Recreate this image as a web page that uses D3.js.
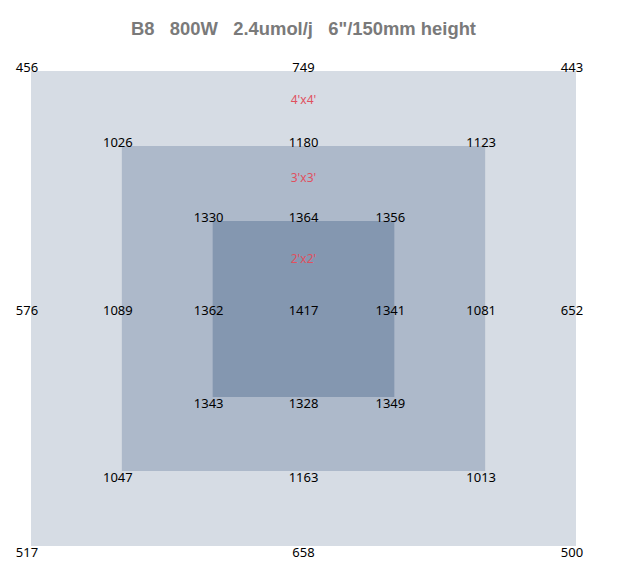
<!DOCTYPE html>
<html>
<head>
<meta charset="utf-8">
<script src="https://cdn.jsdelivr.net/npm/d3@7"></script>
<style>
  body { margin: 0; background: #fff; }
  svg text { font-family: "Noto Sans", sans-serif; }
</style>
</head>
<body>
<svg width="622" height="577"></svg>
<script>
// Squares (ring 3 = outer 4'x4', ring 1 = inner 2'x2')
const rings = [3, 2, 1];
const ringNames = ["4'x4'", "3'x3'", "2'x2'"];
const ringColors = ["#d6dce4", "#adb9ca", "#8497b0"];

// readings per ring: top-left, top, top-right, left, right, bottom-left, bottom, bottom-right
const outerValues = [456, 749, 443, 576, 652, 517, 658, 500];
const middleValues = [1026, 1180, 1123, 1089, 1081, 1047, 1163, 1013];
const innerValues = [1330, 1364, 1356, 1362, 1341, 1343, 1328, 1349];
const centerValue = 1417;

const title = "B8   800W   2.4umol/j   6\"/150mm height";

const svg = d3.select("svg");

// grid scales
const x = d3.scaleLinear().domain([-3, 3]).range([31, 576]);
const y = d3.scaleLinear().domain([-3, -2, -1, 1, 2, 3]).range([71, 146, 221, 397, 471, 546]);

// distance of the size name below each square's top edge
const nameOffset = [33, 36, 42];

// title
svg.append("text")
  .attr("x", 303.5)
  .attr("y", 35)
  .attr("text-anchor", "middle")
  .attr("fill", "#7a7a7a")
  .style("font-family", "'Liberation Sans', Arial, sans-serif")
  .style("font-weight", "bold")
  .style("font-size", "18.4px")
  .style("white-space", "pre")
  .text(title);

// squares
svg.selectAll("rect.ring")
  .data(rings)
  .enter()
  .append("rect")
  .attr("class", "ring")
  .attr("x", (d) => x(-d))
  .attr("y", (d) => y(-d))
  .attr("width", (d) => x(d) - x(-d))
  .attr("height", (d) => y(d) - y(-d))
  .attr("fill", (d, i) => ringColors[i]);

// size names
svg.selectAll("text.name")
  .data(rings)
  .enter()
  .append("text")
  .attr("class", "name")
  .attr("x", x(0))
  .attr("y", (d, i) => y(-d) + nameOffset[i])
  .attr("text-anchor", "middle")
  .attr("fill", "#e0505f")
  .style("font-size", "12px")
  .text((d, i) => ringNames[i]);

// reading positions in grid units: [col, row]
const spots = [[-1, -1], [0, -1], [1, -1], [-1, 0], [1, 0], [-1, 1], [0, 1], [1, 1]];
const allValues = [outerValues, middleValues, innerValues];

const labels = [];
rings.forEach((r, i) => {
  allValues[i].forEach((v, j) => {
    labels.push({ ring: r, col: spots[j][0], row: spots[j][1], value: v });
  });
});
labels.push({ ring: 0, col: 0, row: 0, value: centerValue });

svg.selectAll("text.val")
  .data(labels)
  .enter()
  .append("text")
  .attr("class", "val")
  .attr("x", (d) => x(d.col * d.ring) - (d.col !== 0 ? 4 : 0))
  .attr("y", (d) => {
    if (d.row === -1) return y(-d.ring) + 1;
    if (d.row === 1) return y(d.ring) + 11;
    return 315;
  })
  .attr("text-anchor", "middle")
  .attr("fill", "#000")
  .style("font-size", "13px")
  .text((d) => d.value);
</script>
</body>
</html>
